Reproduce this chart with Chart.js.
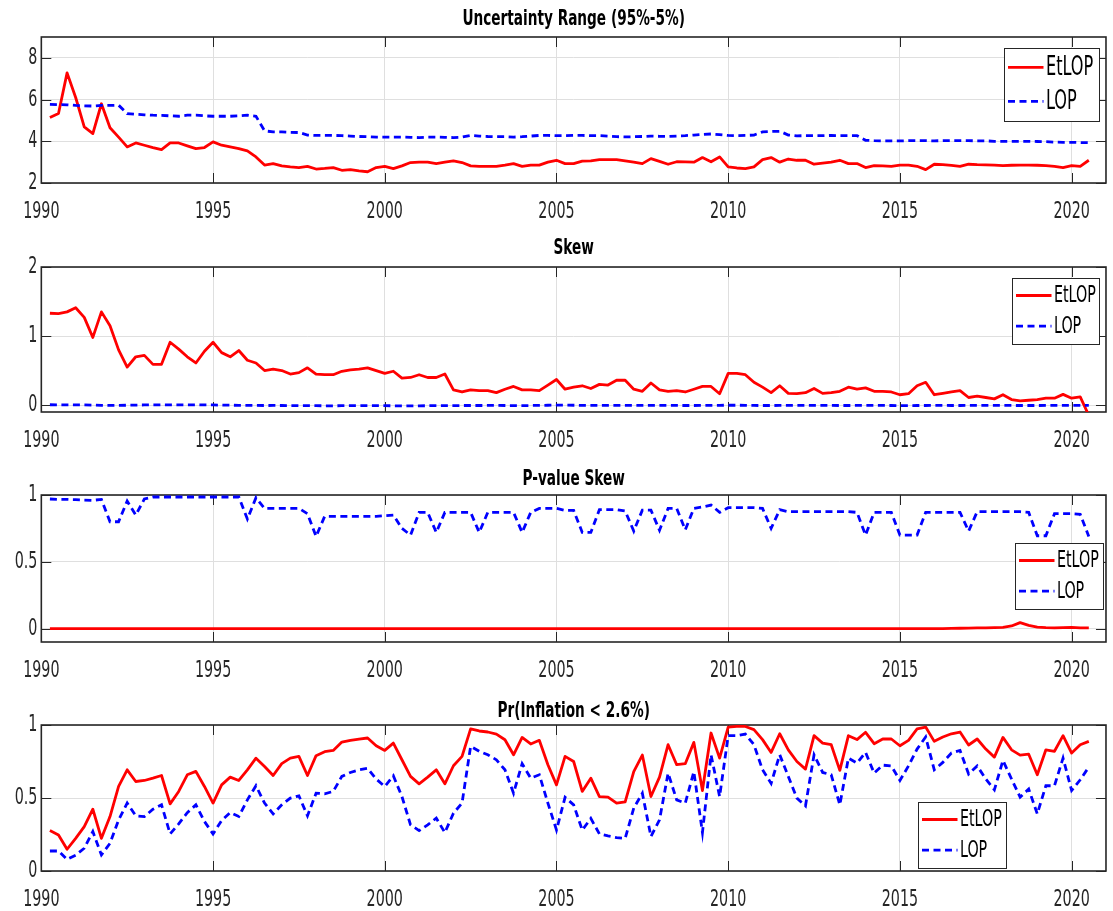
<!DOCTYPE html>
<html>
<head>
<meta charset="utf-8">
<title>EtLOP vs LOP</title>
<script src="https://cdn.jsdelivr.net/npm/chart.js@4.4.1/dist/chart.umd.min.js"></script>
<style>
  html, body { margin: 0; padding: 0; background: #fff; }
  #figure { position: relative; width: 1113px; height: 911px; overflow: hidden; }
  #figure canvas { position: absolute; left: 0; }
</style>
</head>
<body>
<div id="figure">
  <canvas id="range"></canvas>
  <canvas id="skew"></canvas>
  <canvas id="pvalue"></canvas>
  <canvas id="prob"></canvas>
</div>
<script>
// Quarterly observations, 1990Q2 .. 2020Q3
const startYear = 1990.25;
const quarterCount = 122;
const quarters = Array.from({ length: quarterCount }, (_, i) => startYear + i / 4);

// Tick labels
const yearTicks = [1990, 1995, 2000, 2005, 2010, 2015, 2020];
const rangeTicks = [2, 4, 6, 8];
const skewTicks = [0, 1, 2];
const pvalueTicks = [0, 0.5, 1];
const probTicks = [0, 0.5, 1];

// Uncertainty range (95%-5%)
const rangeEtLOP = [
    5.14, 5.33, 7.28, 6.10, 4.69, 4.37, 5.80, 4.65, 4.20, 3.73,
    3.92, 3.81, 3.70, 3.60, 3.92, 3.92, 3.78, 3.65, 3.70, 3.97,
    3.81, 3.73, 3.65, 3.54, 3.25, 2.86, 2.93, 2.82, 2.77, 2.74,
    2.80, 2.67, 2.70, 2.74, 2.61, 2.64, 2.58, 2.54, 2.74, 2.80,
    2.69, 2.82, 2.98, 3.00, 3.00, 2.93, 3.00, 3.06, 2.98, 2.82,
    2.80, 2.80, 2.80, 2.86, 2.93, 2.80, 2.86, 2.86, 3.00, 3.09,
    2.93, 2.93, 3.05, 3.06, 3.12, 3.12, 3.12, 3.06, 3.00, 2.93,
    3.17, 3.04, 2.90, 3.02, 3.01, 3.00, 3.22, 3.02, 3.25, 2.77,
    2.72, 2.69, 2.77, 3.12, 3.22, 3.00, 3.15, 3.09, 3.09, 2.90,
    2.95, 3.00, 3.09, 2.93, 2.93, 2.74, 2.83, 2.82, 2.80, 2.86,
    2.86, 2.80, 2.64, 2.90, 2.88, 2.85, 2.80, 2.90, 2.88, 2.87,
    2.86, 2.83, 2.85, 2.86, 2.86, 2.85, 2.83, 2.80, 2.74, 2.83,
    2.80, 3.09
];
const rangeLOP = [
    5.77, 5.76, 5.75, 5.72, 5.70, 5.69, 5.72, 5.72, 5.73, 5.33,
    5.30, 5.27, 5.25, 5.24, 5.22, 5.20, 5.25, 5.25, 5.22, 5.20,
    5.20, 5.20, 5.22, 5.25, 5.20, 4.50, 4.45, 4.45, 4.43, 4.42,
    4.30, 4.28, 4.28, 4.28, 4.27, 4.25, 4.23, 4.22, 4.20, 4.20,
    4.20, 4.20, 4.19, 4.18, 4.20, 4.20, 4.19, 4.18, 4.20, 4.28,
    4.25, 4.23, 4.22, 4.22, 4.20, 4.22, 4.25, 4.28, 4.28, 4.27,
    4.27, 4.28, 4.28, 4.27, 4.27, 4.25, 4.22, 4.21, 4.22, 4.23,
    4.25, 4.24, 4.23, 4.25, 4.27, 4.30, 4.33, 4.35, 4.32, 4.28,
    4.27, 4.28, 4.30, 4.45, 4.47, 4.48, 4.30, 4.26, 4.27, 4.27,
    4.27, 4.28, 4.27, 4.27, 4.27, 4.05, 4.03, 4.02, 4.02, 4.02,
    4.03, 4.03, 4.03, 4.02, 4.03, 4.03, 4.03, 4.03, 4.02, 4.02,
    4.00, 4.00, 4.00, 4.00, 4.00, 3.99, 3.98, 3.96, 3.95, 3.95,
    3.94, 3.93
];

// Skew
const skewEtLOP = [
    1.33, 1.325, 1.35, 1.41, 1.27, 0.98, 1.35, 1.15, 0.80, 0.55,
    0.70, 0.72, 0.59, 0.59, 0.91, 0.81, 0.70, 0.61, 0.78, 0.91,
    0.76, 0.70, 0.79, 0.65, 0.61, 0.50, 0.52, 0.50, 0.45, 0.47,
    0.54, 0.45, 0.44, 0.44, 0.49, 0.51, 0.52, 0.54, 0.50, 0.46,
    0.49, 0.39, 0.40, 0.44, 0.40, 0.40, 0.45, 0.22, 0.19, 0.22,
    0.21, 0.21, 0.18, 0.23, 0.27, 0.22, 0.22, 0.21, 0.29, 0.37,
    0.23, 0.26, 0.28, 0.24, 0.30, 0.29, 0.36, 0.36, 0.23, 0.20,
    0.32, 0.22, 0.20, 0.21, 0.19, 0.23, 0.27, 0.27, 0.165, 0.46,
    0.46, 0.44, 0.33, 0.26, 0.18, 0.28, 0.17, 0.165, 0.18, 0.24,
    0.17, 0.18, 0.20, 0.26, 0.23, 0.25, 0.20, 0.20, 0.19, 0.15,
    0.165, 0.28, 0.33, 0.15, 0.17, 0.19, 0.21, 0.11, 0.13, 0.11,
    0.09, 0.15, 0.08, 0.06, 0.07, 0.08, 0.10, 0.10, 0.155, 0.10,
    0.12, -0.15
];
const skewLOP = [
    0.005, 0.004, 0.004, 0.003, 0.002, 0.000, -0.003, -0.005, -0.004, -0.002,
    0.000, 0.002, 0.003, 0.004, 0.004, 0.004, 0.003, 0.003, 0.002, 0.002,
    0.000, -0.002, -0.003, -0.004, -0.005, -0.006, -0.005, -0.006, -0.007, -0.008,
    -0.007, -0.009, -0.010, -0.010, -0.009, -0.008, -0.008, -0.007, -0.008, -0.009,
    -0.010, -0.012, -0.011, -0.010, -0.009, -0.008, -0.008, -0.007, -0.006, -0.006,
    -0.006, -0.005, -0.005, -0.006, -0.007, -0.008, -0.006, -0.004, -0.002, 0.000,
    0.000, -0.002, -0.004, -0.005, -0.005, -0.004, -0.003, -0.003, -0.004, -0.005,
    -0.004, -0.004, -0.005, -0.005, -0.006, -0.006, -0.005, -0.004, -0.003, -0.002,
    -0.002, -0.003, -0.005, -0.006, -0.006, -0.005, -0.005, -0.004, -0.004, -0.005,
    -0.005, -0.005, -0.006, -0.006, -0.005, -0.004, -0.004, -0.005, -0.006, -0.007,
    -0.007, -0.006, -0.006, -0.005, -0.005, -0.006, -0.006, -0.005, -0.005, -0.004,
    -0.004, -0.005, -0.005, -0.006, -0.006, -0.006, -0.005, -0.005, -0.004, -0.004,
    -0.004, -0.005
];

// P-value of the skew
const pvalueEtLOP = [
    0, 0, 0, 0, 0, 0, 0, 0, 0, 0,
    0, 0, 0, 0, 0, 0, 0, 0, 0, 0,
    0, 0, 0, 0, 0, 0, 0, 0, 0, 0,
    0, 0, 0, 0, 0, 0, 0, 0, 0, 0,
    0, 0, 0, 0, 0, 0, 0, 0, 0, 0,
    0, 0, 0, 0, 0, 0, 0, 0, 0, 0,
    0, 0, 0, 0, 0, 0, 0, 0, 0, 0,
    0, 0, 0, 0, 0, 0, 0, 0, 0, 0,
    0, 0, 0, 0, 0, 0, 0, 0, 0, 0,
    0, 0, 0, 0, 0, 0, 0, 0, 0, 0,
    0, 0, 0, 0, 0, 0.002, 0.003, 0.004, 0.005, 0.006,
    0.008, 0.010, 0.020, 0.045, 0.025, 0.012, 0.008, 0.006, 0.008, 0.010,
    0.006, 0.005
];
const pvalueLOP = [
    0.97, 0.967, 0.967, 0.965, 0.962, 0.96, 0.967, 0.80, 0.80, 0.955,
    0.85, 0.97, 0.985, 0.985, 0.985, 0.985, 0.985, 0.985, 0.985, 0.985,
    0.985, 0.985, 0.985, 0.82, 0.98, 0.90, 0.90, 0.90, 0.90, 0.90,
    0.86, 0.69, 0.84, 0.84, 0.84, 0.84, 0.84, 0.84, 0.84, 0.845,
    0.85, 0.75, 0.70, 0.87, 0.87, 0.72, 0.87, 0.87, 0.87, 0.87,
    0.72, 0.87, 0.87, 0.87, 0.87, 0.72, 0.87, 0.90, 0.90, 0.90,
    0.885, 0.885, 0.72, 0.72, 0.89, 0.89, 0.89, 0.88, 0.73, 0.887,
    0.887, 0.736, 0.90, 0.90, 0.74, 0.90, 0.91, 0.925, 0.87, 0.905,
    0.905, 0.905, 0.905, 0.90, 0.75, 0.89, 0.875, 0.875, 0.875, 0.875,
    0.875, 0.875, 0.875, 0.875, 0.87, 0.70, 0.87, 0.87, 0.87, 0.70,
    0.70, 0.70, 0.87, 0.87, 0.87, 0.87, 0.87, 0.73, 0.875, 0.875,
    0.875, 0.875, 0.875, 0.875, 0.87, 0.695, 0.695, 0.86, 0.86, 0.86,
    0.855, 0.69
];

// Pr(Inflation < 2.6%)
const probEtLOP = [
    0.277, 0.247, 0.149, 0.224, 0.304, 0.423, 0.224, 0.373, 0.579, 0.693,
    0.613, 0.620, 0.636, 0.654, 0.460, 0.545, 0.659, 0.682, 0.579, 0.465,
    0.590, 0.643, 0.620, 0.693, 0.773, 0.716, 0.654, 0.735, 0.773, 0.785,
    0.654, 0.790, 0.817, 0.826, 0.883, 0.895, 0.904, 0.911, 0.858, 0.826,
    0.876, 0.762, 0.648, 0.597, 0.643, 0.693, 0.597, 0.721, 0.785, 0.973,
    0.959, 0.952, 0.938, 0.899, 0.796, 0.915, 0.870, 0.895, 0.728, 0.590,
    0.785, 0.750, 0.545, 0.636, 0.510, 0.506, 0.465, 0.474, 0.680, 0.794,
    0.510, 0.643, 0.865, 0.728, 0.735, 0.881, 0.551, 0.945, 0.773, 0.986,
    0.990, 0.990, 0.968, 0.900, 0.812, 0.940, 0.830, 0.750, 0.698, 0.927,
    0.876, 0.865, 0.689, 0.927, 0.900, 0.950, 0.872, 0.904, 0.904, 0.858,
    0.895, 0.973, 0.986, 0.888, 0.918, 0.940, 0.952, 0.863, 0.904, 0.835,
    0.780, 0.915, 0.830, 0.794, 0.800, 0.659, 0.830, 0.820, 0.927, 0.808,
    0.865, 0.888
];
const probLOP = [
    0.137, 0.137, 0.080, 0.108, 0.156, 0.270, 0.110, 0.190, 0.350, 0.465,
    0.378, 0.373, 0.423, 0.453, 0.254, 0.323, 0.400, 0.453, 0.339, 0.254,
    0.346, 0.400, 0.373, 0.487, 0.584, 0.465, 0.391, 0.453, 0.499, 0.515,
    0.378, 0.533, 0.529, 0.545, 0.648, 0.675, 0.693, 0.703, 0.630, 0.579,
    0.652, 0.510, 0.316, 0.277, 0.316, 0.362, 0.263, 0.396, 0.465, 0.854,
    0.820, 0.796, 0.762, 0.693, 0.533, 0.735, 0.636, 0.659, 0.465, 0.281,
    0.505, 0.453, 0.280, 0.360, 0.254, 0.240, 0.229, 0.224, 0.430, 0.533,
    0.236, 0.350, 0.670, 0.487, 0.465, 0.680, 0.263, 0.796, 0.510, 0.927,
    0.927, 0.938, 0.865, 0.693, 0.600, 0.796, 0.648, 0.499, 0.446, 0.796,
    0.675, 0.659, 0.453, 0.773, 0.739, 0.812, 0.670, 0.725, 0.720, 0.620,
    0.720, 0.835, 0.918, 0.693, 0.744, 0.808, 0.826, 0.664, 0.720, 0.630,
    0.556, 0.757, 0.630, 0.506, 0.561, 0.391, 0.584, 0.584, 0.773, 0.551,
    0.625, 0.712
];

const fontFamily = "'DejaVu Sans Condensed', 'Liberation Sans Narrow', sans-serif";
const axisColor = '#262626';
const gridColor = '#dfdfdf';
// horizontal squeeze applied to all lettering (tall, narrow glyphs)
const textSqueeze = 0.69;

// Panel layout: page positions of each plot box, titles and legends
const panels = [
    {
        id: 'range', title: 'Uncertainty Range (95%-5%)',
        etlop: rangeEtLOP, lop: rangeLOP, ticks: rangeTicks, min: 2, max: 9,
        canvasTop: 0, titleY: 19.5, plotTop: 37, plotBottom: 183,
        legend: { x: 1004, y: 48, w: 95, h: 73, size: 26 }
    },
    {
        id: 'skew', title: 'Skew',
        etlop: skewEtLOP, lop: skewLOP, ticks: skewTicks, min: -0.1, max: 2,
        canvasTop: 226, titleY: 248, plotTop: 267, plotBottom: 412,
        legend: { x: 1012, y: 278, w: 87, h: 66, size: 23 }
    },
    {
        id: 'pvalue', title: 'P-value Skew',
        etlop: pvalueEtLOP, lop: pvalueLOP, ticks: pvalueTicks, min: -0.1, max: 1,
        canvasTop: 456, titleY: 479, plotTop: 495, plotBottom: 642,
        legend: { x: 1015, y: 543, w: 88, h: 66, size: 23 }
    },
    {
        id: 'prob', title: 'Pr(Inflation < 2.6%)',
        etlop: probEtLOP, lop: probLOP, ticks: probTicks, min: 0, max: 1,
        canvasTop: 688, titleY: 711, plotTop: 725, plotBottom: 871,
        legend: { x: 918, y: 802, w: 88, h: 66, size: 23 }
    }
];

const pageWidth = 1113;
const plotLeft = 36.5;
const plotRight = 1107;
const xAxisHeight = 40;
const titleSize = 22;
const tickSize = 23;

// Condensed lettering: every fillText is squeezed around its anchor point
const narrowText = {
    id: 'narrowText',
    beforeInit(chart) {
        const ctx = chart.ctx;
        const fill = ctx.fillText.bind(ctx);
        ctx.fillText = function (text, x, y) {
            ctx.save();
            ctx.translate(x, y);
            ctx.scale(textSqueeze, 1);
            fill(text, 0, 0);
            ctx.restore();
        };
    }
};

// Bold title centred over the plot box
const panelTitle = {
    id: 'panelTitle',
    afterDraw(chart, args, opts) {
        const { ctx, chartArea: a } = chart;
        ctx.save();
        ctx.fillStyle = '#000000';
        ctx.font = `bold ${titleSize}px ${fontFamily}`;
        ctx.textAlign = 'center';
        ctx.textBaseline = 'middle';
        ctx.fillText(opts.text, (a.left + a.right) / 2, opts.y);
        ctx.restore();
    }
};

// Box around the axes with inward tick marks on all four sides
const axesBox = {
    id: 'axesBox',
    beforeDatasetsDraw(chart) {
        const { ctx, chartArea: a, scales } = chart;
        const len = 10;
        ctx.save();
        ctx.strokeStyle = axisColor;
        ctx.lineWidth = 1;
        ctx.beginPath();
        scales.x.ticks.forEach(t => {
            const px = Math.round(scales.x.getPixelForValue(t.value)) + 0.5;
            ctx.moveTo(px, a.bottom);
            ctx.lineTo(px, a.bottom - len);
            ctx.moveTo(px, a.top);
            ctx.lineTo(px, a.top + len);
        });
        scales.y.ticks.forEach(t => {
            const py = Math.round(scales.y.getPixelForValue(t.value)) + 0.5;
            ctx.moveTo(a.left, py);
            ctx.lineTo(a.left + len, py);
            ctx.moveTo(a.right, py);
            ctx.lineTo(a.right - len, py);
        });
        ctx.stroke();
        ctx.lineWidth = 1.6;
        ctx.strokeRect(a.left, a.top, a.right - a.left, a.bottom - a.top);
        ctx.restore();
    }
};

// Boxed legend placed inside the plot
const boxLegend = {
    id: 'boxLegend',
    afterDraw(chart, args, opts) {
        const { ctx } = chart;
        const x = opts.x, y = opts.y - opts.canvasTop, w = opts.w, h = opts.h;
        ctx.save();
        ctx.fillStyle = '#ffffff';
        ctx.fillRect(x, y, w, h);
        ctx.strokeStyle = axisColor;
        ctx.lineWidth = 1;
        ctx.strokeRect(x + 0.5, y + 0.5, w, h);

        const rows = [y + h * 0.265, y + h * 0.73];
        chart.data.datasets.forEach((ds, i) => {
            const ry = rows[i];
            ctx.beginPath();
            ctx.strokeStyle = ds.borderColor;
            ctx.lineWidth = ds.borderWidth;
            ctx.setLineDash(ds.borderDash || []);
            ctx.moveTo(x + 4, ry);
            ctx.lineTo(x + 39.5, ry);
            ctx.stroke();
            ctx.setLineDash([]);
            ctx.fillStyle = '#000000';
            ctx.font = `${opts.size}px ${fontFamily}`;
            ctx.textBaseline = 'middle';
            ctx.textAlign = 'left';
            ctx.fillText(ds.label, x + 42, ry + 1);
        });
        ctx.restore();
    }
};

function seriesPoints(values) {
    return quarters.map((x, i) => ({ x: x, y: values[i] }));
}

// Bir panel çiz
function createPanel(p) {
    const canvas = document.getElementById(p.id);
    const height = Math.round(p.plotBottom - p.canvasTop + xAxisHeight);
    canvas.width = pageWidth;
    canvas.height = height;
    canvas.style.top = p.canvasTop + 'px';

    return new Chart(canvas.getContext('2d'), {
        type: 'line',
        data: {
            datasets: [
                {
                    label: 'EtLOP',
                    data: seriesPoints(p.etlop),
                    borderColor: '#ff0000',
                    borderWidth: 2.8,
                    borderJoinStyle: 'round',
                    pointRadius: 0,
                    tension: 0,
                    clip: 0,
                    order: 2
                },
                {
                    label: 'LOP',
                    data: seriesPoints(p.lop),
                    borderColor: '#0000ff',
                    borderWidth: 2.8,
                    borderDash: [7, 4.5],
                    pointRadius: 0,
                    tension: 0,
                    clip: 0,
                    order: 1
                }
            ]
        },
        options: {
            responsive: false,
            animation: false,
            events: [],
            layout: {
                padding: {
                    left: 0,
                    right: pageWidth - plotRight,
                    top: p.plotTop - p.canvasTop,
                    bottom: 0
                }
            },
            scales: {
                x: {
                    type: 'linear',
                    min: 1990,
                    max: 2021,
                    afterBuildTicks: s => { s.ticks = yearTicks.map(v => ({ value: v })); },
                    afterFit: s => { s.height = xAxisHeight; },
                    grid: { color: gridColor, lineWidth: 1, drawTicks: false },
                    border: { display: false },
                    ticks: {
                        padding: 15,
                        color: axisColor,
                        font: { family: fontFamily, size: tickSize },
                        maxRotation: 0,
                        autoSkip: false,
                        callback: v => String(v)
                    }
                },
                y: {
                    min: p.min,
                    max: p.max,
                    afterBuildTicks: s => { s.ticks = p.ticks.map(v => ({ value: v })); },
                    afterFit: s => { s.width = plotLeft; },
                    grid: { color: gridColor, lineWidth: 1, drawTicks: false },
                    border: { display: false },
                    ticks: {
                        padding: 4,
                        color: axisColor,
                        font: { family: fontFamily, size: tickSize },
                        callback: v => String(v)
                    }
                }
            },
            plugins: {
                legend: { display: false },
                tooltip: { enabled: false },
                panelTitle: { text: p.title, y: p.titleY - p.canvasTop },
                boxLegend: Object.assign({ canvasTop: p.canvasTop }, p.legend)
            }
        },
        plugins: [narrowText, axesBox, panelTitle, boxLegend]
    });
}

panels.forEach(createPanel);
</script>
</body>
</html>
